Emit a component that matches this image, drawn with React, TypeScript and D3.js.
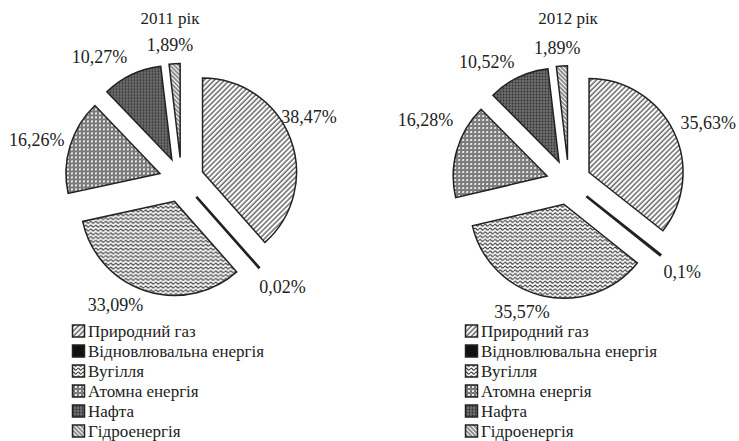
import React, { useEffect, useRef } from 'react';
import * as d3 from 'd3';

// categories and values (per cent)
const categories = [
  'Природний газ',
  'Відновлювальна енергія',
  'Вугілля',
  'Атомна енергія',
  'Нафта',
  'Гідроенергія',
];
const years = ['2011 рік', '2012 рік'];
const values2011 = [38.47, 0.02, 33.09, 16.26, 10.27, 1.89];
const values2012 = [35.63, 0.1, 35.57, 16.28, 10.52, 1.89];
const labels2011 = ['38,47%', '0,02%', '33,09%', '16,26%', '10,27%', '1,89%'];
const labels2012 = ['35,63%', '0,1%', '35,57%', '16,28%', '10,52%', '1,89%'];

const patternIds = ['p-gas', 'p-renew', 'p-coal', 'p-atom', 'p-oil', 'p-hydro'];

const App = () => {
  const ref = useRef<SVGSVGElement>(null);

  useEffect(() => {
    const W = 739;
    const H = 441;
    const svg = d3.select(ref.current);
    svg.selectAll('*').remove();
    svg.attr('width', W).attr('height', H);

    const font = '"Liberation Serif", "Times New Roman", serif';
    const ink = '#222';

    // fill patterns
    const defs = svg.append('defs');

    const gas = defs.append('pattern').attr('id', 'p-gas')
      .attr('patternUnits', 'userSpaceOnUse').attr('width', 3.6).attr('height', 10)
      .attr('patternTransform', 'rotate(45)');
    gas.append('rect').attr('width', 3.6).attr('height', 10).attr('fill', '#fff');
    gas.append('line').attr('x1', 1).attr('x2', 1).attr('y1', 0).attr('y2', 10)
      .attr('stroke', '#444').attr('stroke-width', 1.2);

    const renew = defs.append('pattern').attr('id', 'p-renew')
      .attr('patternUnits', 'userSpaceOnUse').attr('width', 4).attr('height', 4);
    renew.append('rect').attr('width', 4).attr('height', 4).attr('fill', '#111');

    const coal = defs.append('pattern').attr('id', 'p-coal')
      .attr('patternUnits', 'userSpaceOnUse').attr('width', 5).attr('height', 3.8);
    coal.append('rect').attr('width', 5).attr('height', 3.8).attr('fill', '#fff');
    coal.append('path').attr('d', 'M0 2 Q1.25 0.2 2.5 2 T5 2')
      .attr('fill', 'none').attr('stroke', '#333').attr('stroke-width', 1.1);

    const atom = defs.append('pattern').attr('id', 'p-atom')
      .attr('patternUnits', 'userSpaceOnUse').attr('width', 4).attr('height', 4);
    atom.append('rect').attr('width', 4).attr('height', 4).attr('fill', '#fff');
    atom.append('circle').attr('cx', 2).attr('cy', 2).attr('r', 1.3)
      .attr('fill', '#fff').attr('stroke', '#222').attr('stroke-width', 1);
    atom.append('circle').attr('cx', 0).attr('cy', 0).attr('r', 0.6).attr('fill', '#555');
    atom.append('circle').attr('cx', 4).attr('cy', 4).attr('r', 0.6).attr('fill', '#555');

    const oil = defs.append('pattern').attr('id', 'p-oil')
      .attr('patternUnits', 'userSpaceOnUse').attr('width', 3).attr('height', 3);
    oil.append('rect').attr('width', 3).attr('height', 3).attr('fill', '#6e6e6e');
    oil.append('circle').attr('cx', 1.5).attr('cy', 1.5).attr('r', 0.9).attr('fill', '#2e2e2e');

    const hydro = defs.append('pattern').attr('id', 'p-hydro')
      .attr('patternUnits', 'userSpaceOnUse').attr('width', 3).attr('height', 10)
      .attr('patternTransform', 'rotate(-45)');
    hydro.append('rect').attr('width', 3).attr('height', 10).attr('fill', '#fff');
    hydro.append('line').attr('x1', 1).attr('x2', 1).attr('y1', 0).attr('y2', 10)
      .attr('stroke', '#333').attr('stroke-width', 1.1);

    // layout for each pie
    const charts = [
      {
        title: years[0], values: values2011, labels: labels2011,
        cx: 181.5, cy: 180, titleX: 170, legendX: 72,
        nudge: [[-8, -12], [5, -2], [-21, -13], [-6, 2], [-20, 8], [-3, 10]],
      },
      {
        title: years[1], values: values2012, labels: labels2012,
        cx: 568.8, cy: 182.3, titleX: 568, legendX: 465,
        nudge: [[9, 4], [0, 0], [-15, -12], [-4, -22], [-19, 10], [-3, 10]],
      },
    ];

    const radius = 94;
    const explode = 22.5;
    const labelR = 145;

    const pie = d3.pie<number>().sort(null).value(d => d);
    const arc = d3.arc<d3.PieArcDatum<number>>().innerRadius(0).outerRadius(radius);

    charts.forEach(c => {
      const g = svg.append('g').attr('transform', `translate(${c.cx},${c.cy})`);
      const arcs = pie(c.values);

      g.selectAll('path.slice')
        .data(arcs)
        .join('path')
        .attr('class', 'slice')
        .attr('transform', d => {
          const a = (d.startAngle + d.endAngle) / 2;
          return `translate(${Math.sin(a) * explode},${-Math.cos(a) * explode})`;
        })
        .attr('d', arc)
        .attr('fill', (d, i) => `url(#${patternIds[i]})`)
        .attr('stroke', ink)
        .attr('stroke-width', (d, i) => (i === 1 ? 2.6 : 1.5))
        .attr('stroke-linejoin', 'miter');

      g.selectAll('text.lbl')
        .data(arcs)
        .join('text')
        .attr('class', 'lbl')
        .attr('x', (d, i) => Math.sin((d.startAngle + d.endAngle) / 2) * labelR + c.nudge[i][0])
        .attr('y', (d, i) => -Math.cos((d.startAngle + d.endAngle) / 2) * labelR + c.nudge[i][1])
        .attr('text-anchor', 'middle')
        .attr('dominant-baseline', 'central')
        .style('font-family', font)
        .style('font-size', '18px')
        .attr('fill', ink)
        .text((d, i) => c.labels[i]);

      svg.append('text')
        .attr('x', c.titleX)
        .attr('y', 18)
        .attr('text-anchor', 'middle')
        .attr('dominant-baseline', 'central')
        .style('font-family', font)
        .style('font-size', '17px')
        .attr('fill', ink)
        .text(c.title);

      // legend
      const lg = svg.append('g').attr('transform', `translate(${c.legendX},331)`);
      const rows = lg.selectAll('g')
        .data(categories)
        .join('g')
        .attr('transform', (d, i) => `translate(0,${i * 20})`);
      rows.append('rect')
        .attr('x', 0.5).attr('y', -6).attr('width', 12).attr('height', 12)
        .attr('fill', (d, i) => `url(#${patternIds[i]})`)
        .attr('stroke', ink).attr('stroke-width', 1.5);
      rows.append('text')
        .attr('x', 16)
        .attr('y', 0)
        .attr('dominant-baseline', 'central')
        .style('font-family', font)
        .style('font-size', '17px')
        .attr('fill', ink)
        .text(d => d);
    });
  }, []);

  return (
    <svg ref={ref} style={{ position: 'absolute', left: 0, top: 0, background: '#fff' }} />
  );
};

export default App;
